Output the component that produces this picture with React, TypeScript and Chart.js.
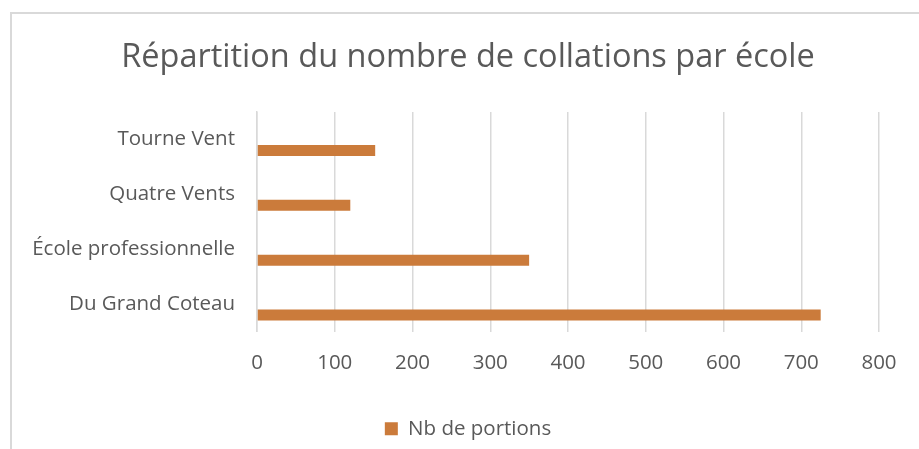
import React, { useEffect, useRef } from "react";
import { Chart, registerables } from "chart.js";

Chart.register(...registerables);

const chartTitle = "Répartition du nombre de collations par école";
const categories = ["Tourne Vent", "Quatre Vents", "École professionnelle", "Du Grand Coteau"];
const seriesName = "Nb de portions";
const portions = [152, 120, 350, 725];
const xMin = 0;
const xMax = 800;
const xStep = 100;

const TEXT = "#595959";
const GRID = "#d9d9d9";
const BAR = "#CB7B3B";
const FONT = "'Open Sans'";

// Centers title and legend over the (wider) chart frame, like the original.
const centerBlocks = {
  id: "centerBlocks",
  afterLayout(chart: any) {
    const area = chart.chartArea;
    const left = area.right - 822;
    for (const box of [chart.titleBlock, chart.legend]) {
      if (box) {
        box.left = left;
        box.right = area.right;
      }
    }
  },
};

export default function App() {
  const ref = useRef<HTMLCanvasElement>(null);

  useEffect(() => {
    if (!ref.current) return;
    const chart = new Chart(ref.current, {
      type: "bar",
      data: {
        labels: categories,
        datasets: [
          {
            label: "",
            data: categories.map(() => null) as any,
            backgroundColor: "rgba(0,0,0,0)",
          },
          {
            label: seriesName,
            data: portions,
            backgroundColor: BAR,
            borderWidth: 0,
          },
        ],
      },
      options: {
        indexAxis: "y",
        responsive: false,
        animation: false,
        datasets: { bar: { categoryPercentage: 0.8, barPercentage: 0.5 } },
        layout: { padding: { left: 0, right: 40, top: 0, bottom: 0 } },
        plugins: {
          title: {
            display: true,
            text: chartTitle,
            color: TEXT,
            font: { family: FONT, size: 32.5, weight: "normal" },
            padding: { top: 38, bottom: 35 },
          },
          legend: {
            position: "bottom",
            labels: {
              filter: (item: any) => item.datasetIndex === 1,
              boxWidth: 13,
              boxHeight: 13,
              color: TEXT,
              font: { family: FONT, size: 20.5 },
              padding: 10,
            },
          },
          tooltip: { enabled: false },
        },
        scales: {
          x: {
            type: "linear",
            min: xMin,
            max: xMax,
            ticks: { stepSize: xStep, color: TEXT, font: { family: FONT, size: 20.5 }, padding: 19 },
            grid: { color: GRID, lineWidth: 1.5, drawTicks: false },
            border: { display: false },
            afterFit: (s: any) => {
              s.height = 77;
            },
          },
          y: {
            grid: { display: false, drawTicks: false },
            border: { display: true, color: GRID, width: 1.5 },
            ticks: { color: TEXT, font: { family: FONT, size: 20.5 }, padding: 22 },
            afterFit: (s: any) => {
              s.width = 257;
            },
          },
        },
      } as any,
      plugins: [centerBlocks],
    });
    return () => chart.destroy();
  }, []);

  return (
    <div style={{ position: "fixed", left: 0, top: 0, width: 919, height: 449, overflow: "hidden", background: "#fff" }}>
      <div
        style={{
          position: "absolute",
          left: 10,
          top: 12,
          width: 2000,
          height: 2000,
          borderLeft: "2px solid #d9d9d9",
          borderTop: "2px solid #d9d9d9",
        }}
      />
      <canvas ref={ref} width={919} height={449} style={{ position: "absolute", left: 0, top: 0, width: 919, height: 449 }} />
    </div>
  );
}
